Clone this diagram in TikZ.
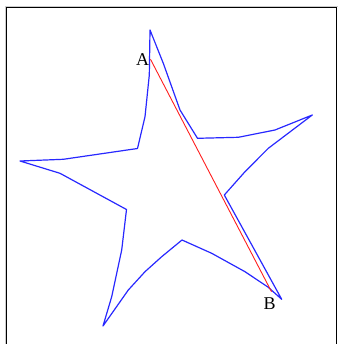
\documentclass[tikz,border=0pt]{standalone}
\usepackage{fontspec}
\setmainfont{Liberation Serif}
\begin{document}
\begin{tikzpicture}[x=1pt,y=-1pt,
  starline/.style={draw={rgb,255:red,40;green,40;blue,255},line width=1.2pt,line join=round},
  chord/.style={draw={rgb,255:red,255;green,30;blue,30},line width=0.9pt},
  lbl/.style={font=\fontsize{18}{18}\selectfont,inner sep=0pt}]
\useasboundingbox (0,0) rectangle (338,344);
% frame
\draw[gray!40,line width=1pt] (5,344) -- (5,6.5) -- (337.5,6.5);
\draw[black,line width=1pt] (6.5,344) -- (6.5,8) -- (336.5,8) -- (336.5,344);
% star
\draw[starline] (150,30) -- (149.3,75) -- (145,116.7) -- (137.5,148.5)
  -- (63.3,159.3) -- (20,161)
  -- (60,173.3) -- (126.5,209.5)
  -- (121.7,250) -- (111.7,296.7) -- (103,326)
  -- (128.3,290) -- (145,271.7) -- (161.7,256.7) -- (182,240)
  -- (211.7,253.3) -- (245,271.7) -- (268.3,287.3) -- (281.7,299.3)
  -- (224.3,195)
  -- (245,171.7) -- (268.3,148.3) -- (312.3,115)
  -- (275,130) -- (238.3,137.3) -- (197.5,138.3)
  -- (180,110) -- (163.3,63.3) -- cycle;
% chord
\coordinate (pA) at (150.5,59.3);
\coordinate (pB) at (271.5,291.7);
\draw[chord] (pA) -- (pB);
\node[lbl] (A) at (142.5,59.5) {A};
\node[lbl] (B) at (269.5,304) {B};
\end{tikzpicture}
\end{document}
